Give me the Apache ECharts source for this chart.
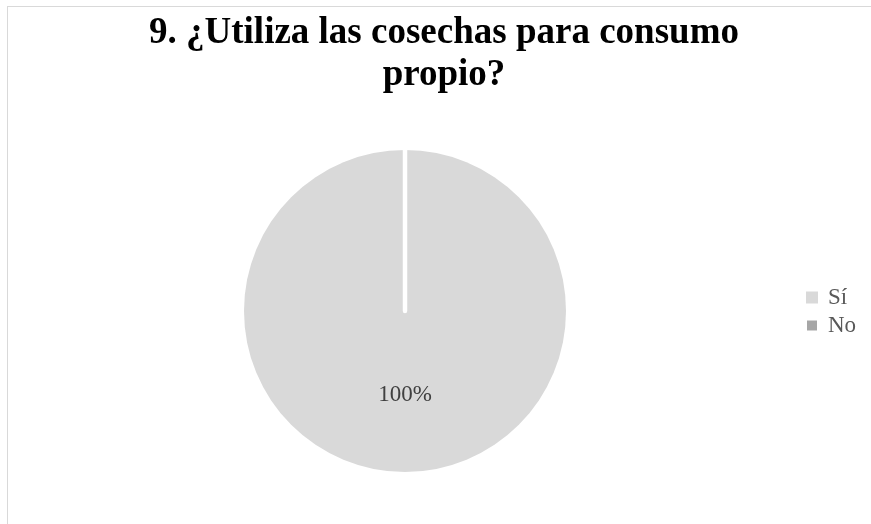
<!DOCTYPE html>
<html>
<head>
<meta charset="utf-8">
<script src="https://cdn.jsdelivr.net/npm/echarts@6/dist/echarts.min.js"></script>
<style>
  html, body { margin: 0; padding: 0; background: #fff; }
  #frame { position: absolute; left: 7px; top: 6px; width: 880px; height: 540px;
           border-left: 1px solid #d9d9d9; border-top: 1px solid #d9d9d9; }
  #chart { position: absolute; left: 0; top: 0; width: 871px; height: 524px; }
</style>
</head>
<body>
<div id="frame"></div>
<div id="chart"></div>
<script>
// Survey answers: share of respondents per option
const categories = ['Sí', 'No'];
const values = [100, 0];
const colors = ['#d9d9d9', '#a6a6a6'];
const titleText = '9. ¿Utiliza las cosechas para consumo\npropio?';

const chart = echarts.init(document.getElementById('chart'), null, { renderer: 'canvas' });

const data = categories.map((name, i) => ({
  name: name,
  value: values[i],
  itemStyle: {
    color: colors[i],
    borderColor: '#ffffff',
    borderWidth: values[i] === 0 ? 4.5 : 0
  }
}));

chart.setOption({
  animation: false,
  backgroundColor: 'transparent',
  title: {
    text: titleText,
    left: 439,
    top: 7,
    textAlign: 'center',
    textStyle: {
      fontFamily: 'Liberation Serif',
      fontWeight: 'bold',
      fontSize: 37,
      lineHeight: 42,
      color: '#000000'
    }
  },
  legend: {
    orient: 'vertical',
    left: 800,
    top: 281,
    itemWidth: 12,
    itemHeight: 12,
    itemGap: 5,
    icon: 'rect',
    data: categories,
    textStyle: {
      fontFamily: 'Liberation Serif',
      fontSize: 23,
      lineHeight: 23,
      color: '#595959',
      padding: [0, 0, 0, 5]
    }
  },
  series: [{
    type: 'pie',
    center: [405, 311],
    radius: [0, 161],
    startAngle: 90,
    clockwise: true,
    stillShowZeroSum: true,
    avoidLabelOverlap: false,
    label: {
      show: true,
      position: 'inside',
      fontFamily: 'Liberation Serif',
      fontSize: 23,
      color: '#404040',
      formatter: p => (p.value > 0 ? Math.round(p.percent) + '%' : '')
    },
    labelLine: { show: false },
    emphasis: { disabled: true },
    data: data
  }]
});
</script>
</body>
</html>
